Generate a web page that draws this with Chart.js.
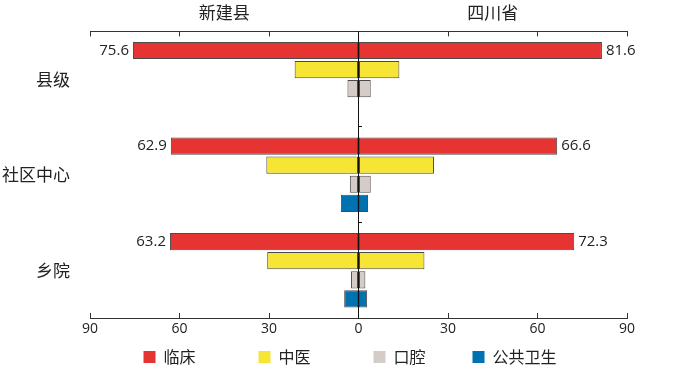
<!DOCTYPE html>
<html>
<head>
<meta charset="utf-8">
<script src="https://cdn.jsdelivr.net/npm/chart.js@4"></script>
<style>
  html, body { margin: 0; padding: 0; background: #fff; }
  #wrap { width: 700px; height: 367px; }
</style>
</head>
<body>
<div id="wrap"><canvas id="c"></canvas></div>
<script>
// 分类与数据
const categories = ["县级", "社区中心", "乡院"];
const seriesNames = ["临床", "中医", "口腔", "公共卫生"];
const seriesColors = ["#e53432", "#f6e535", "#d6ccc7", "#0071b1"];

// 左侧：新建县（画成负值），右侧：四川省
const xinjian = {
    "临床": [75.6, 62.9, 63.2],
    "中医": [21.4, 30.9, 30.6],
    "口腔": [3.7, 2.9, 2.5],
    "公共卫生": [null, 5.9, 4.8]
};
const sichuan = {
    "临床": [81.6, 66.6, 72.3],
    "中医": [13.7, 25.3, 22.1],
    "口腔": [4.1, 4.1, 2.3],
    "公共卫生": [null, 3.2, 2.9]
};
const sideTitles = ["新建县", "四川省"];
const xTicks = [-90, -60, -30, 0, 30, 60, 90];
// 图例文字后面补的全角空格数（拉开图例间距）
const legendGaps = [3, 3, 2, 0];

const cjk = '"Noto Sans CJK SC", "Noto Sans", sans-serif';

const datasets = [];
seriesNames.forEach((name, i) => {
    datasets.push({
        label: name,
        side: "left",
        stack: "s" + i,
        data: xinjian[name].map(v => v == null ? null : -v),
        backgroundColor: seriesColors[i],
        borderColor: "#4a4a4a",
        borderWidth: 1,
        borderSkipped: false
    });
});
seriesNames.forEach((name, i) => {
    datasets.push({
        label: name,
        side: "right",
        stack: "s" + i,
        data: sichuan[name],
        backgroundColor: seriesColors[i],
        borderColor: "#4a4a4a",
        borderWidth: 1,
        borderSkipped: false
    });
});

// 临床柱两端的数值
const valueLabels = {
    id: "valueLabels",
    afterDatasetsDraw(chart) {
        const ctx = chart.ctx;
        ctx.save();
        ctx.font = '15px "Open Sans", "Noto Sans", sans-serif';
        ctx.fillStyle = "#222";
        ctx.textBaseline = "middle";
        chart.data.datasets.forEach((ds, di) => {
            if (ds.label !== "临床") return;
            const meta = chart.getDatasetMeta(di);
            meta.data.forEach((bar, i) => {
                const v = ds.data[i];
                if (v == null) return;
                if (v < 0) {
                    ctx.textAlign = "right";
                    ctx.fillText(Math.abs(v).toFixed(1), bar.x - 4, bar.y);
                } else {
                    ctx.textAlign = "left";
                    ctx.fillText(v.toFixed(1), bar.x + 4, bar.y);
                }
            });
        });
        ctx.restore();
    }
};

new Chart(document.getElementById("c"), {
    type: "bar",
    data: { labels: categories, datasets: datasets },
    plugins: [valueLabels],
    options: {
        indexAxis: "y",
        responsive: true,
        maintainAspectRatio: false,
        animation: false,
        categoryPercentage: 0.8,
        barPercentage: 0.9,
        layout: { padding: { left: 0, right: 0, top: -12, bottom: -8 } },
        plugins: {
            tooltip: { enabled: false },
            legend: {
                position: "bottom",
                labels: {
                    boxWidth: 12,
                    boxHeight: 12,
                    padding: 15,
                    color: "#222",
                    font: { family: cjk, size: 16 },
                    generateLabels(chart) {
                        const items = Chart.defaults.plugins.legend.labels.generateLabels(chart);
                        return items
                            .filter(it => chart.data.datasets[it.datasetIndex].side === "right")
                            .map((it, k) => Object.assign(it, {
                                text: it.text + "\u3000".repeat(legendGaps[k]),
                                lineWidth: 0,
                                strokeStyle: "transparent"
                            }));
                    }
                }
            }
        },
        scales: {
            x: {
                type: "linear",
                position: "bottom",
                stacked: true,
                min: -90,
                max: 90,
                afterBuildTicks(scale) { scale.ticks = xTicks.map(v => ({ value: v })); },
                afterFit(scale) { scale.height = 16; },
                ticks: {
                    color: "#222",
                    padding: 8,
                    font: { family: '"Open Sans", "Noto Sans", sans-serif', size: 14 },
                    callback: v => Math.abs(v)
                },
                grid: { drawOnChartArea: false, tickLength: -5, color: "#333" },
                border: { display: true, color: "#333" }
            },
            x2: {
                type: "linear",
                position: "top",
                min: -90,
                max: 90,
                afterBuildTicks(scale) {
                    const t = [];
                    for (let v = -90; v <= 90; v += 15) t.push({ value: v });
                    scale.ticks = t;
                },
                ticks: {
                    autoSkip: false,
                    maxRotation: 0,
                    color: "#222",
                    padding: 14,
                    font: { family: cjk, size: 17 },
                    callback: v => v === -45 ? sideTitles[0] : (v === 45 ? sideTitles[1] : "")
                },
                grid: {
                    drawOnChartArea: false,
                    tickLength: -5,
                    color: c => (c.tick && c.tick.value % 30 === 0) ? "#333" : "rgba(0,0,0,0)"
                },
                border: { display: true, color: "#333" }
            },
            y: {
                type: "category",
                position: "left",
                afterFit(scale) { scale.width = 90; },
                ticks: { color: "#222", padding: 20, font: { family: cjk, size: 17 } },
                grid: { display: false, drawTicks: false },
                border: { display: false }
            },
            // 右侧留白
            yRight: {
                type: "category",
                labels: categories,
                position: "right",
                afterFit(scale) { scale.width = 73; },
                ticks: { display: false },
                grid: { display: false, drawTicks: false },
                border: { display: false }
            },
            y2: {
                type: "category",
                labels: categories,
                position: { x: 0 },
                offset: true,
                z: 1,
                ticks: { display: false },
                grid: { offset: true, drawOnChartArea: false, tickLength: -4, color: "#111" },
                border: { display: true, color: "#111" }
            }
        }
    }
});
</script>
</body>
</html>
